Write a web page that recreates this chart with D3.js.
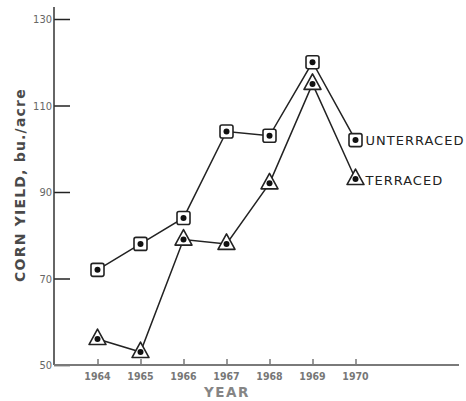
<!DOCTYPE html>
<html>
<head>
<meta charset="utf-8">
<script src="https://cdn.jsdelivr.net/npm/d3@7"></script>
<style>
  body { margin: 0; background: #fff; }
  svg { display: block; }
</style>
</head>
<body>
<script>
// chart data
const years = [1964, 1965, 1966, 1967, 1968, 1969, 1970];
const unterraced = [72, 78, 84, 104, 103, 120, 102];
const terraced = [56, 53, 79, 78, 92, 115, 93];
const yTicks = [50, 70, 90, 110, 130];
const yearLabels = ["1964", "1965", "1966", "1967", "1968", "1969", "1970"];

const width = 466, height = 401;

const svg = d3.select("body").append("svg")
  .attr("width", width)
  .attr("height", height);

const x = d3.scaleLinear().domain([1964, 1970]).range([97.5, 355.5]);
const y = d3.scaleLinear().domain([50, 130]).range([365, 19]);

const axisX0 = 54;

// y axis, ticks pointing inward
const yAxis = d3.axisRight(y)
  .tickValues(yTicks)
  .tickSize(16)
  .tickSizeOuter(0)
  .tickFormat("");

const gy = svg.append("g")
  .attr("transform", `translate(${axisX0},0)`)
  .call(yAxis);
gy.select(".domain").remove();
gy.selectAll(".tick line").attr("stroke", "#222").attr("stroke-width", 1.5);
gy.append("line")
  .attr("x1", 0).attr("x2", 0)
  .attr("y1", 7).attr("y2", y(50))
  .attr("stroke", "#333").attr("stroke-width", 1.5);

svg.append("g").selectAll("text")
  .data(yTicks)
  .join("text")
  .attr("x", axisX0 - 2)
  .attr("y", d => y(d) + 4)
  .attr("text-anchor", "end")
  .attr("font-family", "DejaVu Sans Condensed, DejaVu Sans")
  .attr("font-size", 11)
  .attr("fill", "#666")
  .text(d => d);

// x axis
const xAxis = d3.axisTop(x)
  .tickValues(years)
  .tickSize(6)
  .tickSizeOuter(0)
  .tickFormat("");

const gx = svg.append("g")
  .attr("transform", `translate(0,${y(50)})`)
  .call(xAxis);
gx.select(".domain").remove();
gx.selectAll(".tick line").attr("stroke", "#555").attr("stroke-width", 1.2);
gx.append("line")
  .attr("x1", axisX0).attr("x2", 459)
  .attr("y1", 0).attr("y2", 0)
  .attr("stroke", "#7a7a7a").attr("stroke-width", 2);

svg.append("g").selectAll("text")
  .data(years)
  .join("text")
  .attr("x", d => x(d))
  .attr("y", y(50) + 15)
  .attr("text-anchor", "middle")
  .attr("font-family", "DejaVu Sans Condensed, DejaVu Sans")
  .attr("font-weight", "bold")
  .attr("font-size", 10.5)
  .attr("fill", "#777")
  .text((d, i) => yearLabels[i]);

// axis titles
svg.append("text")
  .attr("x", 227).attr("y", 397)
  .attr("text-anchor", "middle")
  .attr("font-family", "DejaVu Sans")
  .attr("font-weight", "bold")
  .attr("font-size", 13.5)
  .attr("letter-spacing", 1.5)
  .attr("fill", "#858585")
  .text("YEAR");

svg.append("text")
  .attr("transform", "translate(25,185) rotate(-90)")
  .attr("text-anchor", "middle")
  .attr("font-family", "DejaVu Sans")
  .attr("font-weight", "bold")
  .attr("font-size", 14)
  .attr("letter-spacing", 1.2)
  .attr("fill", "#4a4a4a")
  .text("CORN YIELD,  bu./acre");

// lines
const line = d3.line()
  .x((d, i) => x(years[i]))
  .y(d => y(d));

[unterraced, terraced].forEach(s => {
  svg.append("path").datum(s)
    .attr("d", line).attr("fill", "none")
    .attr("stroke", "#222").attr("stroke-width", 1.5);
});

// square markers
const sq = svg.append("g").selectAll("g")
  .data(unterraced)
  .join("g")
  .attr("transform", (d, i) => `translate(${x(years[i])},${y(d)})`);
sq.append("rect")
  .attr("x", -6.5).attr("y", -6.5).attr("width", 13).attr("height", 13)
  .attr("rx", 2)
  .attr("fill", "#fff").attr("stroke", "#222").attr("stroke-width", 1.6);
sq.append("circle").attr("r", 3).attr("fill", "#111");

// triangle markers
const tri = svg.append("g").selectAll("g")
  .data(terraced)
  .join("g")
  .attr("transform", (d, i) => `translate(${x(years[i])},${y(d)})`);
tri.append("path")
  .attr("d", "M0,-10 L8.5,5.5 L-8.5,5.5 Z")
  .attr("stroke-linejoin", "round")
  .attr("fill", "#fff").attr("stroke", "#222").attr("stroke-width", 1.6);
tri.append("circle").attr("r", 3).attr("fill", "#111");

// series labels
const last = years.length - 1;
svg.append("text")
  .attr("x", x(years[last]) + 10)
  .attr("y", y(unterraced[last]) + 5)
  .attr("font-family", "DejaVu Sans")
  .attr("font-size", 13)
  .attr("letter-spacing", 1)
  .attr("fill", "#222")
  .text("UNTERRACED");
svg.append("text")
  .attr("x", x(years[last]) + 10)
  .attr("y", y(terraced[last]) + 6)
  .attr("font-family", "DejaVu Sans")
  .attr("font-size", 13)
  .attr("letter-spacing", 1)
  .attr("fill", "#222")
  .text("TERRACED");
</script>
</body>
</html>
